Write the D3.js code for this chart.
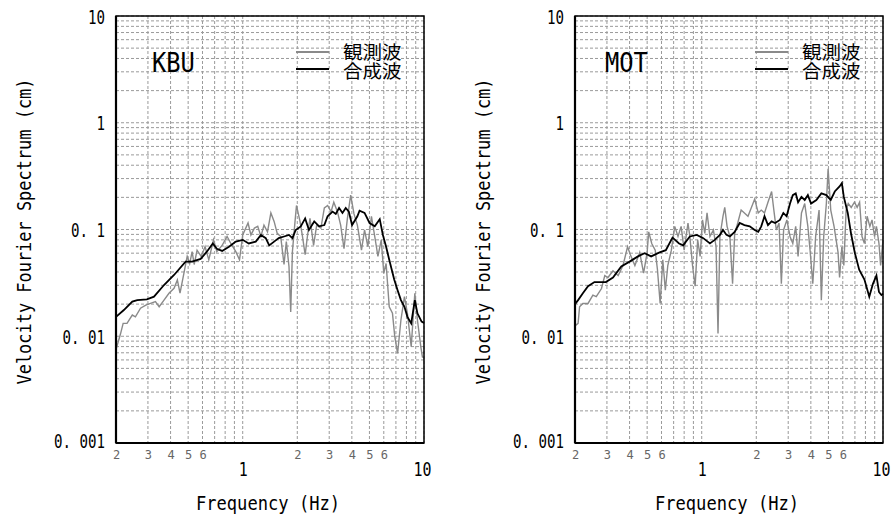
<!DOCTYPE html>
<html>
<head>
<meta charset="UTF-8">
<title>Velocity Fourier Spectrum</title>
<style>
  body { margin: 0; background: #fff; }
  svg { display: block; }
  .mono { font-family: "DejaVu Sans Mono", monospace; }
  .jp { font-family: "Noto Sans CJK JP", sans-serif; }
</style>
</head>
<body>
<div id="chart"></div>
<script src="https://d3js.org/d3.v7.min.js"></script>
<script>
// tick labels
const yTicks = [0.001, 0.01, 0.1, 1, 10];
const yTickLabels = ["0. 001", "0. 01", "0. 1", "1", "10"];
const xMinorTicks = [0.2, 0.3, 0.4, 0.5, 0.6, 2, 3, 4, 5, 6];
const xMinorLabels = ["2", "3", "4", "5", "6", "2", "3", "4", "5", "6"];
const xMajorTicks = [1, 10];
const xMajorLabels = ["1", "10"];
const legendNames = ["観測波", "合成波"];

// KBU, synthetic (black) [Hz, cm]
const kbuSyn = [[0.2,0.0152],[0.221,0.0176],[0.246,0.0211],[0.262,0.0218],[0.296,0.0222],[0.324,0.0235],[0.368,0.0302],[0.418,0.0375],[0.484,0.050],[0.526,0.050],[0.586,0.053],[0.634,0.062],[0.684,0.074],[0.72,0.066],[0.77,0.063],[0.84,0.069],[0.916,0.077],[1.0,0.080],[1.08,0.074],[1.18,0.077],[1.26,0.089],[1.34,0.083],[1.40,0.071],[1.49,0.077],[1.58,0.083],[1.69,0.086],[1.80,0.089],[1.88,0.083],[1.96,0.099],[2.09,0.107],[2.21,0.127],[2.32,0.099],[2.48,0.119],[2.64,0.107],[2.82,0.110],[2.94,0.133],[3.13,0.147],[3.26,0.140],[3.40,0.159],[3.55,0.143],[3.70,0.159],[3.85,0.147],[4.01,0.110],[4.29,0.133],[4.41,0.150],[4.70,0.143],[5.01,0.115],[5.35,0.107],[5.7,0.125],[5.93,0.089],[6.18,0.069],[6.43,0.052],[6.85,0.034],[7.15,0.027],[7.46,0.0218],[7.8,0.0189],[8.1,0.0152],[8.5,0.0132],[8.9,0.0218],[9.2,0.0164],[9.7,0.0137],[10,0.0133]];

// KBU, observed (grey)
const kbuObs = [[0.2,0.0075],[0.212,0.0106],[0.219,0.0132],[0.23,0.0132],[0.246,0.0158],[0.256,0.0152],[0.273,0.0183],[0.292,0.0196],[0.31,0.0203],[0.33,0.0211],[0.346,0.0189],[0.368,0.0218],[0.392,0.0253],[0.418,0.0281],[0.436,0.0337],[0.451,0.0253],[0.474,0.039],[0.494,0.056],[0.51,0.048],[0.526,0.062],[0.54,0.047],[0.56,0.064],[0.59,0.056],[0.62,0.069],[0.65,0.052],[0.69,0.080],[0.72,0.062],[0.77,0.071],[0.82,0.086],[0.86,0.074],[0.916,0.062],[0.96,0.052],[1.0,0.089],[1.07,0.115],[1.11,0.089],[1.16,0.103],[1.21,0.107],[1.26,0.086],[1.31,0.110],[1.37,0.095],[1.43,0.143],[1.49,0.119],[1.55,0.092],[1.62,0.086],[1.69,0.047],[1.74,0.077],[1.80,0.045],[1.84,0.0169],[1.88,0.062],[1.95,0.127],[1.98,0.168],[2.07,0.119],[2.13,0.089],[2.21,0.058],[2.28,0.089],[2.35,0.127],[2.46,0.071],[2.56,0.110],[2.70,0.103],[2.82,0.159],[2.94,0.168],[3.07,0.147],[3.18,0.180],[3.33,0.147],[3.47,0.110],[3.62,0.066],[3.78,0.127],[3.94,0.21],[4.11,0.14],[4.29,0.110],[4.52,0.064],[4.70,0.099],[4.90,0.069],[5.13,0.133],[5.35,0.086],[5.57,0.056],[5.81,0.080],[6.0,0.039],[6.18,0.048],[6.43,0.0189],[6.7,0.0164],[6.9,0.0099],[7.15,0.0069],[7.46,0.0142],[7.8,0.0235],[8.1,0.0164],[8.5,0.0080],[8.9,0.0253],[9.2,0.0142],[9.6,0.0080],[9.8,0.0064],[10,0.0063]];

// MOT, synthetic (black)
const motSyn = [[0.2,0.020],[0.208,0.0218],[0.221,0.0253],[0.236,0.0294],[0.256,0.0322],[0.296,0.0322],[0.324,0.0355],[0.36,0.045],[0.40,0.050],[0.445,0.056],[0.484,0.060],[0.526,0.056],[0.586,0.061],[0.634,0.064],[0.69,0.084],[0.75,0.074],[0.79,0.071],[0.86,0.086],[0.94,0.089],[1.02,0.083],[1.11,0.074],[1.18,0.080],[1.26,0.089],[1.31,0.099],[1.37,0.089],[1.43,0.086],[1.52,0.095],[1.62,0.115],[1.72,0.110],[1.84,0.107],[1.96,0.099],[2.05,0.095],[2.13,0.107],[2.22,0.133],[2.32,0.110],[2.43,0.119],[2.54,0.115],[2.70,0.123],[2.82,0.143],[2.94,0.133],[3.07,0.175],[3.18,0.21],[3.30,0.218],[3.40,0.180],[3.55,0.202],[3.70,0.189],[3.85,0.21],[4.01,0.175],[4.29,0.189],[4.57,0.218],[4.87,0.21],[5.15,0.189],[5.42,0.227],[5.76,0.253],[5.93,0.272],[6.08,0.202],[6.39,0.143],[6.66,0.092],[7.0,0.060],[7.39,0.042],[7.9,0.034],[8.4,0.0235],[8.8,0.031],[9.2,0.037],[9.5,0.026],[9.8,0.0243],[10,0.025]];

// MOT, observed (grey)
const motObs = [[0.2,0.0125],[0.208,0.0132],[0.212,0.0189],[0.221,0.0203],[0.236,0.0203],[0.251,0.0243],[0.262,0.0235],[0.28,0.028],[0.292,0.037],[0.304,0.0355],[0.324,0.041],[0.346,0.037],[0.368,0.046],[0.39,0.069],[0.404,0.058],[0.428,0.046],[0.455,0.061],[0.478,0.039],[0.50,0.061],[0.51,0.095],[0.53,0.074],[0.554,0.064],[0.57,0.042],[0.59,0.0203],[0.61,0.052],[0.63,0.027],[0.65,0.046],[0.68,0.064],[0.71,0.107],[0.74,0.086],[0.77,0.107],[0.80,0.064],[0.84,0.115],[0.86,0.086],[0.89,0.046],[0.92,0.0294],[0.95,0.080],[0.98,0.056],[1.01,0.123],[1.04,0.092],[1.07,0.143],[1.11,0.086],[1.16,0.099],[1.20,0.069],[1.23,0.0106],[1.26,0.086],[1.31,0.133],[1.34,0.161],[1.38,0.107],[1.43,0.086],[1.48,0.031],[1.52,0.092],[1.58,0.115],[1.65,0.152],[1.72,0.143],[1.80,0.133],[1.88,0.161],[1.96,0.193],[2.05,0.143],[2.13,0.152],[2.22,0.143],[2.32,0.180],[2.43,0.227],[2.50,0.152],[2.58,0.099],[2.67,0.115],[2.75,0.031],[2.83,0.099],[2.95,0.123],[3.07,0.086],[3.18,0.074],[3.30,0.107],[3.40,0.056],[3.55,0.143],[3.70,0.175],[3.85,0.107],[3.96,0.064],[4.10,0.031],[4.25,0.086],[4.44,0.152],[4.57,0.0218],[4.71,0.086],[4.87,0.175],[4.98,0.37],[5.15,0.152],[5.37,0.107],[5.65,0.061],[5.76,0.0355],[5.93,0.069],[6.08,0.046],[6.26,0.152],[6.43,0.175],[6.68,0.161],[6.96,0.180],[7.2,0.161],[7.43,0.180],[7.66,0.086],[7.9,0.074],[8.17,0.133],[8.46,0.107],[8.7,0.123],[8.98,0.086],[9.2,0.107],[9.5,0.074],[9.7,0.046],[10,0.080]];

const width = 893, height = 515;
const plotTop = 16, plotBottom = 443, plotW = 308;

const svg = d3.select("#chart").append("svg")
  .attr("width", width).attr("height", height);
svg.append("rect").attr("width", width).attr("height", height).attr("fill", "#fff");

// minor grid values
const gridX = [], gridY = [];
[0.1, 1].forEach(dec => d3.range(1, 10).forEach(m => { const v = m * dec; if (v >= 0.2) gridX.push(v); }));
gridX.push(10);
[0.001, 0.01, 0.1, 1].forEach(dec => d3.range(1, 10).forEach(m => gridY.push(m * dec)));
gridY.push(10);

function fitText(sel, perChar) {
  sel.attr("textLength", function() { return this.textContent.length * perChar; })
     .attr("lengthAdjust", "spacingAndGlyphs");
}

function panel(left, station, obs, syn) {
  const x = d3.scaleLog().domain([0.2, 10]).range([left, left + plotW]);
  const y = d3.scaleLog().domain([0.001, 10]).range([plotBottom, plotTop]);
  const g = svg.append("g");

  // grid
  g.append("g").selectAll("line").data(gridX).join("line")
    .attr("x1", d => x(d)).attr("x2", d => x(d))
    .attr("y1", plotTop).attr("y2", plotBottom)
    .attr("stroke", "#9a9a9a").attr("stroke-width", 1).attr("stroke-dasharray", "3,2");
  g.append("g").selectAll("line").data(gridY).join("line")
    .attr("x1", left).attr("x2", left + plotW)
    .attr("y1", d => y(d)).attr("y2", d => y(d))
    .attr("stroke", "#9a9a9a").attr("stroke-width", 1).attr("stroke-dasharray", "3,2");

  const line = d3.line().x(d => x(d[0])).y(d => y(d[1]));
  g.append("path").datum(obs).attr("d", line)
    .attr("fill", "none").attr("stroke", "#8a8a8a").attr("stroke-width", 1.4);
  g.append("path").datum(syn).attr("d", line)
    .attr("fill", "none").attr("stroke", "#000").attr("stroke-width", 1.8);

  // frame
  g.append("rect").attr("x", left).attr("y", plotTop).attr("width", plotW).attr("height", plotBottom - plotTop)
    .attr("fill", "none").attr("stroke", "#000").attr("stroke-width", 1.5);
  g.append("line").attr("x1", left).attr("x2", left).attr("y1", plotTop).attr("y2", plotBottom)
    .attr("stroke", "#000").attr("stroke-width", 2.2);
  g.append("line").attr("x1", left).attr("x2", left + plotW).attr("y1", plotBottom).attr("y2", plotBottom)
    .attr("stroke", "#000").attr("stroke-width", 2.2);

  // y axis labels
  const ya = g.append("g").attr("transform", `translate(${left},0)`)
    .call(d3.axisLeft(y).tickValues(yTicks).tickFormat((d, i) => yTickLabels[i]).tickSize(0).tickPadding(11));
  ya.select(".domain").remove();
  ya.selectAll("text").attr("class", "mono").attr("font-size", 20).attr("fill", "#000")
    .attr("dy", (d, i) => i === 0 ? "0.22em" : "0.36em")
    .call(fitText, 8.5);

  // x axis labels: small grey digits and big decade labels
  const xa = g.append("g").attr("transform", `translate(0,${plotBottom})`)
    .call(d3.axisBottom(x).tickValues(xMinorTicks).tickFormat((d, i) => xMinorLabels[i]).tickSize(0).tickPadding(7));
  xa.select(".domain").remove();
  xa.selectAll("text").attr("class", "mono").attr("font-size", 12).attr("fill", "#666");

  const xb = g.append("g").attr("transform", `translate(0,${plotBottom})`)
    .call(d3.axisBottom(x).tickValues(xMajorTicks).tickFormat((d, i) => xMajorLabels[i]).tickSize(0).tickPadding(19));
  xb.select(".domain").remove();
  xb.selectAll("text").attr("class", "mono").attr("font-size", 20).attr("fill", "#000")
    .attr("dx", (d, i) => i === 1 ? "-0.1em" : 0)
    .call(fitText, 9);

  // axis titles
  g.append("text").attr("class", "mono").attr("font-size", 20)
    .attr("x", left + plotW / 2 - 2).attr("y", 510).attr("text-anchor", "middle")
    .text("Frequency (Hz)").call(fitText, 10.3);
  g.append("text").attr("class", "mono").attr("font-size", 20)
    .attr("transform", `translate(${left - 85},${(plotTop + plotBottom) / 2 + 2}) rotate(-90)`)
    .attr("text-anchor", "middle")
    .text("Velocity Fourier Spectrum (cm)").call(fitText, 10.2);

  // station name
  g.append("text").attr("class", "mono").attr("font-size", 27)
    .attr("x", left + (station === "KBU" ? 36 : 30)).attr("y", 72)
    .text(station).call(fitText, 14.3);

  // legend
  const lg = g.append("g").attr("transform", `translate(${left + 180},0)`);
  [["#8a8a8a", 52], ["#000", 69]].forEach((s, i) => {
    lg.append("line").attr("x1", 0).attr("x2", 33).attr("y1", s[1]).attr("y2", s[1])
      .attr("stroke", s[0]).attr("stroke-width", 1.8);
    lg.append("text").attr("class", "jp").attr("font-size", 18).attr("fill", "#000")
      .attr("x", 47).attr("y", s[1] + 1 + i * 2).attr("dy", "0.35em")
      .text(legendNames[i]).call(fitText, 19.5);
  });
}

panel(116, "KBU", kbuObs, kbuSyn);
panel(575, "MOT", motObs, motSyn);
</script>
</body>
</html>
